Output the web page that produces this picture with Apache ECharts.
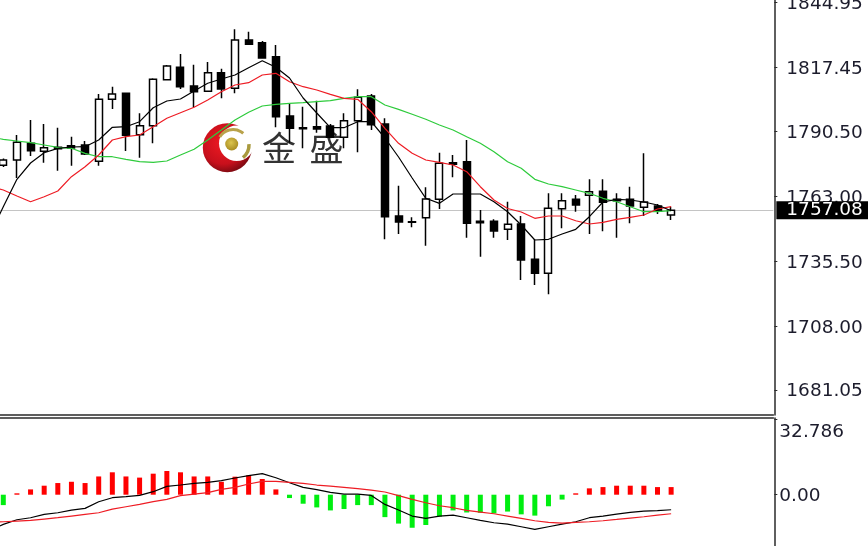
<!DOCTYPE html>
<html>
<head>
<meta charset="utf-8">
<style>html,body{margin:0;padding:0;background:#fff;overflow:hidden}#c{width:868px;height:546px}</style>
<script src="https://cdn.jsdelivr.net/npm/echarts@6/dist/echarts.min.js"></script>
</head>
<body>
<div id="c"></div>
<script>
// Candles as [open, close, low, high]
const candles = [
[1776.13,1778.38,1775.42,1779.00],[1778.38,1785.87,1770.76,1788.96],[1785.45,1782.31,1780.07,1795.31],[1782.06,1783.58,1777.24,1793.61],
[1783.75,1783.16,1773.85,1792.05],[1784.43,1783.46,1775.96,1788.24],[1784.73,1780.92,1780.49,1786.42],[1777.83,1804.07,1775.96,1806.31],
[1804.07,1806.31,1799.96,1809.40],[1806.61,1788.83,1782.19,1806.86],[1789.09,1792.89,1779.35,1798.14],[1792.89,1812.53,1785.45,1812.95],
[1812.36,1818.16,1812.23,1818.58],[1817.61,1809.40,1808.42,1823.24],[1809.69,1807.28,1800.68,1818.71],[1807.45,1815.32,1807.28,1819.85],
[1815.32,1808.42,1804.49,1817.02],[1808.72,1829.16,1806.61,1833.69],[1829.16,1827.34,1827.34,1832.67],[1828.02,1821.54,1821.42,1828.74],
[1822.09,1796.70,1792.22,1827.05],[1797.00,1791.79,1785.70,1802.08],[1792.05,1791.62,1783.33,1800.93],[1792.47,1791.50,1789.93,1803.47],
[1792.77,1787.98,1787.56,1793.61],[1787.98,1794.99,1783.33,1798.14],[1794.99,1804.91,1781.64,1808.30],[1805.46,1793.32,1791.07,1806.31],
[1793.61,1754.38,1744.82,1796.03],[1754.68,1752.14,1747.06,1767.50],[1752.27,1752.01,1749.90,1754.13],[1753.96,1761.87,1742.11,1766.82],
[1761.75,1776.98,1757.64,1781.47],[1777.24,1776.56,1771.06,1780.49],[1777.66,1751.59,1745.49,1786.84],[1752.44,1751.85,1737.45,1757.22],
[1752.44,1748.33,1745.49,1753.28],[1749.05,1751.17,1744.52,1760.73],[1751.29,1736.06,1727.59,1754.68],[1736.35,1730.43,1725.48,1744.82],
[1730.43,1757.94,1721.54,1764.29],[1757.77,1761.16,1749.47,1764.29],[1761.75,1759.33,1756.50,1763.56],[1763.44,1764.96,1747.06,1770.21],
[1765.13,1760.48,1748.21,1770.21],[1761.75,1761.16,1745.49,1764.29],[1761.75,1758.91,1751.59,1767.08],[1758.36,1760.60,1754.68,1781.21],
[1758.91,1756.79,1755.53,1759.76],[1755.10,1757.08,1752.99,1758.62]
];
// The first entry of each line lies just off the left edge of the picture.
const maBlack = [1746.64,
1758.62,1770.21,1777.11,1781.47,1783.33,1783.88,1784.01,1786.84,1792.22,1792.47,1794.59,1800.51,1803.35,1804.19,1807.58,1810.84,1812.66,1814.35,1817.44,1820.40,
1817.61,1813.08,1804.62,1798.27,1792.05,1792.05,1794.59,1794.59,1787.69,1779.65,1770.76,1762.17,1760.05,1763.99,1763.99,1763.99,1760.73,1756.50,1750.87,1744.52,
1744.82,1747.06,1749.05,1754.38,1760.60,1761.75,1761.45,1760.60,1759.33,1756.92];
const maRed = [1767.40,
1765.68,1763.14,1760.73,1762.85,1765.26,1771.31,1775.54,1780.49,1786.84,1788.24,1788.96,1792.47,1796.03,1798.40,1800.68,1803.77,1807.28,1810.12,1811.09,1814.35,
1815.07,1811.51,1809.40,1808.00,1806.18,1804.49,1804.07,1798.82,1791.79,1785.45,1781.21,1778.38,1777.40,1776.26,1773.43,1767.08,1761.45,1757.85,1756.37,1753.70,
1754.68,1754.68,1752.69,1751.29,1752.01,1753.28,1754.13,1755.10,1757.64,1758.62];
const maGreen = [1788.10,
1787.14,1786.42,1785.70,1784.73,1783.75,1783.33,1781.21,1779.77,1779.77,1778.67,1777.66,1777.40,1777.96,1780.49,1782.91,1786.84,1791.07,1795.31,1798.57,1801.23,
1801.95,1802.37,1802.63,1803.05,1803.47,1804.49,1805.17,1805.17,1801.65,1799.83,1797.72,1795.60,1793.19,1791.07,1788.24,1785.45,1781.89,1777.66,1774.87,1770.21,
1768.22,1767.08,1765.68,1764.29,1762.17,1760.73,1758.62,1756.50,1756.50,1756.92];
const macdHist = [
-4.5,0.6,2.3,3.9,5.05,5.6,5.05,7.9,9.7,7.9,7.4,9.1,10.25,9.7,7.9,7.9,5.6,7.8,8.4,6.8,2.3,-1.45,-3.9,-5.5,-6.8,
-6.2,-4.5,-4.5,-9.7,-12.5,-14.3,-13.1,-9.5,-6.8,-7.7,-7.8,-8.1,-7.3,-8.5,-9.05,-5.0,-2.1,0.6,2.75,3.3,3.9,3.9,3.9,3.3,3.3];
const macdBlack = [-15.4,
-12.85,-10.83,-9.96,-8.52,-7.80,-6.64,-5.92,-3.03,-1.30,-0.87,-0.29,1.30,3.61,4.19,4.91,5.34,6.06,7.22,8.23,9.10,7.36,5.20,3.18,2.17,1.01,
0.29,0.29,-0.29,-4.19,-6.64,-9.24,-10.25,-9.24,-8.81,-9.96,-11.12,-12.13,-12.71,-13.86,-15.02,-13.86,-12.71,-11.70,-9.96,-9.24,-8.38,-7.65,-7.08,-6.93,-6.50];
const macdRed = [-12.0,
-11.70,-11.41,-11.12,-10.54,-9.96,-9.24,-8.52,-7.80,-6.21,-5.20,-4.19,-3.03,-2.02,-0.43,0.29,0.87,2.31,3.18,4.62,5.78,5.78,5.34,4.91,4.19,3.75,
3.18,2.60,2.02,1.16,-0.43,-2.02,-3.47,-4.77,-5.63,-6.79,-7.51,-8.23,-9.24,-10.25,-11.26,-11.99,-12.27,-11.99,-11.70,-11.26,-10.69,-10.11,-9.53,-8.81,-8.23];
const priceTicks = [1844.95,1817.45,1790.50,1763.00,1735.50,1708.00,1681.05];
const macdTicks = [32.786,0];
const lastPrice = 1757.08;
const brandChars = ['金','盛'];

const PAD_END = 7, slots = 1 + candles.length + PAD_END;
const categories = Array.from({length: slots}, (_, i) => 'B' + i);
const lead = a => [null, ...a];
const font = 'DejaVu Sans', ink = '#1c1c2c', labelSize = 18.5;
const textStyle = {color: ink, fontFamily: font, fontSize: labelSize};
const line = (name, data, color, x) => ({
  name, type: 'line', data, xAxisIndex: x, yAxisIndex: x, symbol: 'none', silent: true, z: 3,
  lineStyle: {color, width: 1.2}
});
const chart = echarts.init(document.getElementById('c'), null, {renderer: 'canvas'});
chart.setOption({
  animation: false,
  backgroundColor: '#fff',
  grid: [
    {left: -17.15, top: 0, width: 790.5, height: 415, outerBoundsMode: 'none', containLabel: false},
    {left: -17.15, top: 418, width: 790.5, height: 128, outerBoundsMode: 'none', containLabel: false}
  ],
  xAxis: [
    {type: 'category', gridIndex: 0, data: categories, boundaryGap: true,
     axisLine: {show: true, onZero: false, lineStyle: {color: '#2a2a2a', width: 1.5}}, axisTick: {show: false}, axisLabel: {show: false}, splitLine: {show: false}},
    {type: 'category', gridIndex: 1, position: 'top', data: categories, boundaryGap: true,
     axisLine: {show: true, onZero: false, lineStyle: {color: '#2a2a2a', width: 1.5}}, axisTick: {show: false}, axisLabel: {show: false}, splitLine: {show: false}}
  ],
  yAxis: [
    {type: 'value', gridIndex: 0, position: 'right', offset: 1, min: 1670.47, max: 1846.09, splitLine: {show: false},
     axisLine: {show: true, onZero: false, lineStyle: {color: '#2a2a2a', width: 1.5}},
     axisTick: {show: true, length: 3, customValues: priceTicks, lineStyle: {color: '#2a2a2a'}},
     axisLabel: {show: true, customValues: priceTicks, margin: 12, ...textStyle, formatter: v => '{a|' + v.toFixed(2) + '}',
       rich: {a: {...textStyle, padding: [3, 0, 0, 0]}}}},
    {type: 'value', gridIndex: 1, position: 'right', offset: 1, min: -22.2, max: 33.2, splitLine: {show: false},
     axisLine: {show: true, onZero: false, lineStyle: {color: '#2a2a2a', width: 1.5}},
     axisTick: {show: true, length: 3, customValues: macdTicks, lineStyle: {color: '#2a2a2a'}},
     axisLabel: {show: true, customValues: macdTicks, margin: 5, ...textStyle,
       formatter: v => v === 0 ? '{a|0.00}' : '{top|' + v.toFixed(3) + '}',
       rich: {a: {...textStyle, padding: [3, 0, 0, 0]}, top: {...textStyle, padding: [26, 0, 0, 0]}}}}
  ],
  graphic: [
    {type: 'circle', z: 0, shape: {cx: 227.3, cy: 147.7, r: 24.5},
     style: {fill: new echarts.graphic.RadialGradient(0.42, 0.4, 0.62, [
       {offset: 0, color: '#f01a22'}, {offset: 0.7, color: '#c8101c'}, {offset: 1, color: '#7e0a12'}])}},
    {type: 'circle', z: 0, shape: {cx: 236.7, cy: 143.3, r: 17.7}, style: {fill: '#ffffff'}},
    {type: 'arc', z: 0, shape: {cx: 233, cy: 145, r: 15.5, startAngle: -2.6, endAngle: -0.85, clockwise: true},
     style: {stroke: '#b9a24a', lineWidth: 3, fill: null}},
    {type: 'arc', z: 0, shape: {cx: 233, cy: 145, r: 16, startAngle: -0.05, endAngle: 0.9, clockwise: true},
     style: {stroke: '#a99a3e', lineWidth: 3.5, fill: null}},
    {type: 'circle', z: 0, shape: {cx: 231.7, cy: 144, r: 6.5},
     style: {fill: new echarts.graphic.RadialGradient(0.45, 0.4, 0.6, [
       {offset: 0, color: '#dcc54e'}, {offset: 1, color: '#a98c22'}])}},
    {type: 'text', z: 0, style: {x: 279, y: 148, text: brandChars[0], fill: '#333', font: '400 34px "Noto Sans CJK SC"', textAlign: 'center', textVerticalAlign: 'middle'}},
    {type: 'text', z: 0, style: {x: 326.5, y: 148, text: brandChars[1], fill: '#333', font: '400 34px "Noto Sans CJK SC"', textAlign: 'center', textVerticalAlign: 'middle'}}
  ],
  series: [
    {name: 'Price', type: 'candlestick', xAxisIndex: 0, yAxisIndex: 0, data: lead(candles).map(c => c === null ? '-' : c), barWidth: 7.5, silent: true, z: 2,
     itemStyle: {color: '#ffffff', color0: '#000000', borderColor: '#000000', borderColor0: '#000000', borderWidth: 1.5},
     markLine: {silent: true, z: 1, symbol: 'none', precision: 2, animation: false,
       lineStyle: {color: '#c4c4c4', width: 1, type: 'solid'},
       label: {show: true, position: 'end', distance: 3, formatter: () => lastPrice.toFixed(2),
         backgroundColor: '#000', color: '#fff', fontFamily: font, fontSize: labelSize, padding: [2, 10, 0, 10], lineHeight: 16},
       data: [{yAxis: lastPrice}]}},
    line('MA green', maGreen, '#2ecb3c', 0),
    line('MA red', maRed, '#ee1c24', 0),
    line('MA black', maBlack, '#000000', 0),
    {name: 'MACD hist', type: 'bar', xAxisIndex: 1, yAxisIndex: 1, data: lead(macdHist), barWidth: 5, silent: true, z: 2,
     itemStyle: {color: p => p.value >= 0 ? '#ff0000' : '#00ee10'}},
    line('MACD black', macdBlack, '#000000', 1),
    line('MACD red', macdRed, '#ee1c24', 1)
  ]
});
</script>
</body>
</html>
